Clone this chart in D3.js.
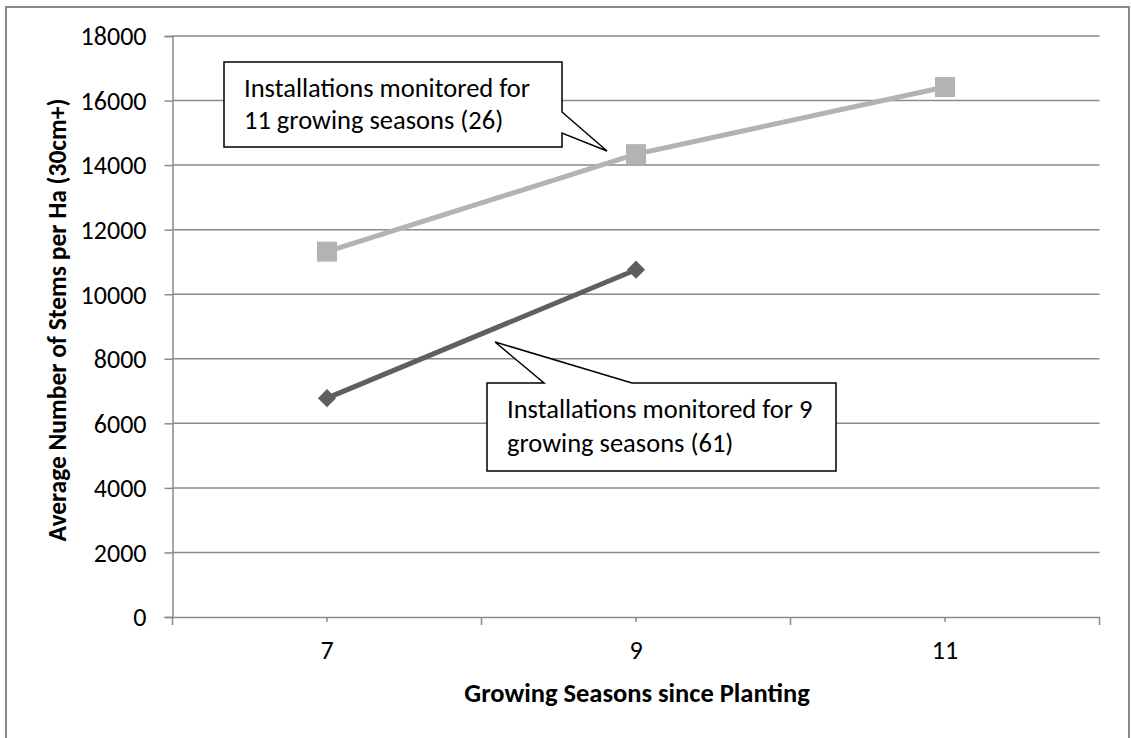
<!DOCTYPE html>
<html>
<head>
<meta charset="utf-8">
<script src="https://cdn.jsdelivr.net/npm/d3@7"></script>
<style>
  html, body { margin: 0; padding: 0; background: #fff; }
  svg { display: block; }
  text { font-family: Carlito, Calibri, Lato, "Open Sans", sans-serif; fill: #000; }
</style>
</head>
<body>
<svg id="chart" width="1131" height="738"></svg>
<script>
// ---- data ----
const categories = ["7", "9", "11"];
const series11Label = ["Installations monitored for", "11 growing seasons (26)"];
const series11Values = [11320, 14340, 16420];
const series9Label = ["Installations monitored for 9", "growing seasons (61)"];
const series9Values = [6780, 10760];
const yTickValues = [0, 2000, 4000, 6000, 8000, 10000, 12000, 14000, 16000, 18000];
const xTitle = "Growing Seasons since Planting";
const yTitle = "Average Number of Stems per Ha (30cm+)";

// ---- layout ----
const plot = { left: 172.5, right: 1099.5, top: 36, bottom: 617 };
const gridColor = "#8a8a8a";
const tickFont = "26px";
const calloutFont = "26.5px";

const svg = d3.select("#chart");

// outer border
svg.append("rect")
  .attr("x", 6).attr("y", 7).attr("width", 1123).attr("height", 740)
  .attr("fill", "#fff").attr("stroke", "#898989").attr("stroke-width", 2);

const x = d3.scaleBand().domain(categories).range([plot.left, plot.right]).padding(0);
const y = d3.scaleLinear().domain([0, 18000]).range([plot.bottom, plot.top]);
const cx = c => x(c) + x.bandwidth() / 2;

// gridlines
svg.append("g").selectAll("line").data(yTickValues.filter(v => v > 0)).join("line")
  .attr("x1", plot.left).attr("x2", plot.right)
  .attr("y1", d => y(d)).attr("y2", d => y(d))
  .attr("stroke", gridColor).attr("stroke-width", 1.5);

// y axis
const yAxis = svg.append("g").attr("transform", `translate(${plot.left},0)`)
  .call(d3.axisLeft(y).tickValues(yTickValues).tickSize(8).tickPadding(18).tickFormat(d3.format("d")));
yAxis.select(".domain").attr("stroke", gridColor).attr("stroke-width", 1.5);
yAxis.selectAll(".tick line").attr("stroke", gridColor).attr("stroke-width", 1.5);
yAxis.selectAll(".tick text").style("font-size", tickFont).attr("fill", "#000").attr("dy", "0.34em");

// x axis (minor ticks at category centres)
const xAxis = svg.append("g").attr("transform", `translate(0,${plot.bottom})`)
  .call(d3.axisBottom(x).tickSize(5).tickPadding(18).tickSizeOuter(0));
xAxis.select(".domain").attr("stroke", gridColor).attr("stroke-width", 1.5);
xAxis.selectAll(".tick line").attr("stroke", gridColor).attr("stroke-width", 1.5);
xAxis.selectAll(".tick text").style("font-size", tickFont).attr("fill", "#000")
  .attr("y", 42).attr("dy", null);
// major ticks at category boundaries
const bounds = categories.map(c => x(c)).concat([x.range()[1]]);
svg.append("g").selectAll("line").data(bounds).join("line")
  .attr("x1", d => d).attr("x2", d => d)
  .attr("y1", plot.bottom).attr("y2", plot.bottom + 8)
  .attr("stroke", gridColor).attr("stroke-width", 1.5);

// axis titles
svg.append("text").attr("x", 637).attr("y", 702).attr("text-anchor", "middle")
  .style("font-size", "26.5px").style("font-weight", "bold").text(xTitle);
svg.append("text").attr("transform", "translate(66,320) rotate(-90)").attr("text-anchor", "middle")
  .style("font-size", "25.5px").style("font-weight", "bold").text(yTitle);

// series lines
const line = d3.line().x(d => cx(d.c)).y(d => y(d.v));
const s11 = series11Values.map((v, i) => ({ c: categories[i], v }));
const s9 = series9Values.map((v, i) => ({ c: categories[i], v }));

svg.append("path").datum(s11).attr("d", line)
  .attr("fill", "none").attr("stroke", "#b3b3b3").attr("stroke-width", 5);
svg.append("g").selectAll("rect").data(s11).join("rect")
  .attr("x", d => cx(d.c) - 10).attr("y", d => y(d.v) - 10)
  .attr("width", 20).attr("height", 20).attr("fill", "#b3b3b3");

svg.append("path").datum(s9).attr("d", line)
  .attr("fill", "none").attr("stroke", "#5f5f5f").attr("stroke-width", 5);
svg.append("g").selectAll("path.dia").data(s9).join("path").attr("class", "dia")
  .attr("d", d3.symbol().type(d3.symbolDiamond2).size(210))
  .attr("transform", d => `translate(${cx(d.c)},${y(d.v)})`)
  .attr("fill", "#5f5f5f");

// callouts
function callout(box, tip, base, lines, baselines) {
  const g = svg.append("g");
  let pts;
  if (base.side === "right") {
    pts = [[box.x0, box.y0], [box.x1, box.y0], [box.x1, base.a], [tip[0], tip[1]], [box.x1, base.b],
           [box.x1, box.y1], [box.x0, box.y1]];
  } else {
    pts = [[box.x0, box.y0], [base.a, box.y0], [tip[0], tip[1]], [base.b, box.y0], [box.x1, box.y0],
           [box.x1, box.y1], [box.x0, box.y1]];
  }
  g.append("path").attr("d", d3.line()(pts) + "Z")
    .attr("fill", "#fff").attr("stroke", "#000").attr("stroke-width", 1.5);
  lines.forEach((t, i) => {
    g.append("text").attr("x", box.x0 + 20).attr("y", baselines[i])
      .style("font-size", calloutFont).text(t);
  });
}
callout({ x0: 224, y0: 62, x1: 562, y1: 147 }, [607, 151], { side: "right", a: 112, b: 133 },
  series11Label, [97, 129]);
callout({ x0: 487, y0: 383, x1: 836, y1: 471 }, [495, 342], { side: "top", a: 544, b: 632 },
  series9Label, [418, 452]);
</script>
</body>
</html>
